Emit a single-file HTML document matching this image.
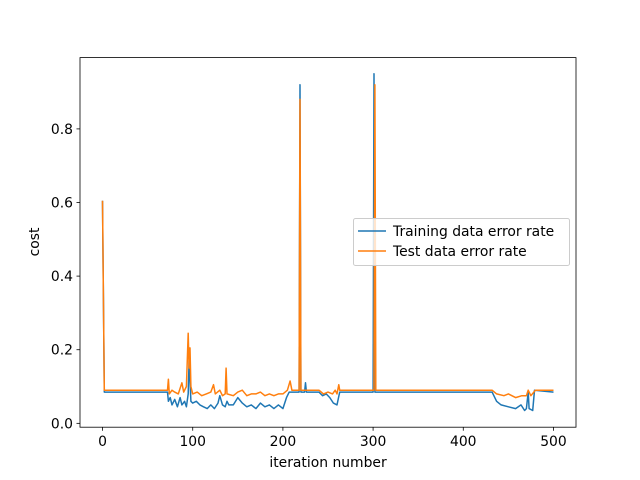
<!DOCTYPE html>
<html><head><meta charset="utf-8"><style>body{margin:0;background:#fff}svg{display:block;font-family:"DejaVu Sans","Liberation Sans",sans-serif}</style></head>
<body>
<svg id="c" width="640" height="480"></svg>
<script>
const trainX=[0,2,72,73,75,77,80,83,86,88,91,93,95,96,97,98,100,104,108,112,116,120,124,128,130,133,136,138,140,145,150,155,160,165,170,175,180,185,190,195,200,204,207,218,219,220,224,225,226,240,244,248,252,256,260,263,300,301,302,432,437,442,450,458,464,468,470,472,473,477,479,500];
const trainY=[0.605,0.085,0.085,0.06,0.07,0.05,0.065,0.045,0.07,0.05,0.06,0.045,0.08,0.17,0.12,0.06,0.055,0.06,0.05,0.045,0.04,0.05,0.04,0.055,0.075,0.05,0.045,0.06,0.05,0.05,0.07,0.055,0.045,0.05,0.04,0.055,0.045,0.05,0.04,0.05,0.04,0.07,0.085,0.085,0.92,0.085,0.085,0.11,0.085,0.085,0.075,0.08,0.07,0.055,0.05,0.085,0.085,0.95,0.085,0.085,0.06,0.05,0.045,0.04,0.05,0.035,0.04,0.085,0.04,0.035,0.09,0.085];
const testX=[0,2,72,73,74,77,80,84,88,90,93,95,96,97,98,100,105,110,115,120,123,125,130,133,136,137,138,145,150,155,160,165,170,175,180,185,190,195,200,205,208,210,218,219,220,240,245,250,255,258,260,262,263,301,302,303,432,437,445,450,458,465,470,472,475,480,500];
const testY=[0.605,0.09,0.09,0.12,0.08,0.09,0.085,0.08,0.11,0.085,0.1,0.245,0.15,0.205,0.1,0.08,0.085,0.075,0.08,0.085,0.105,0.08,0.09,0.075,0.08,0.15,0.08,0.075,0.085,0.09,0.075,0.08,0.08,0.085,0.075,0.08,0.075,0.08,0.08,0.09,0.115,0.09,0.09,0.88,0.09,0.09,0.08,0.085,0.08,0.09,0.08,0.105,0.09,0.09,0.92,0.09,0.09,0.08,0.075,0.08,0.07,0.075,0.075,0.09,0.075,0.09,0.09];
const xTicks=[0,100,200,300,400,500];
const yTicks=[0.0,0.2,0.4,0.6,0.8];
const L=80,R=576,T=57.6,B=427.2,x0=-25,x1=525,y0=-0.0105,y1=0.9937;
const sx=v=>L+(v-x0)/(x1-x0)*(R-L), sy=v=>B-(v-y0)/(y1-y0)*(B-T);
const svg=document.getElementById('c');const NS='http://www.w3.org/2000/svg';
function mk(t,a,p){const e=document.createElementNS(NS,t);for(const k in a)e.setAttribute(k,a[k]);(p||svg).appendChild(e);return e;}
function line(xs,ys,col,name){const d=xs.map((v,i)=>(i?'L':'M')+sx(v).toFixed(1)+' '+sy(ys[i]).toFixed(1)).join('');const p=mk('path',{d:d,fill:'none',stroke:col,'stroke-width':1.5,'stroke-linejoin':'round'});

}
line(trainX,trainY,'#1f77b4','training-error-line');
line(testX,testY,'#ff7f0e','test-error-line');
const fr=mk('rect',{x:L,y:T,width:R-L,height:B-T,fill:'none',stroke:'#000','stroke-width':0.8});


xTicks.forEach(v=>{const x=sx(v);mk('line',{x1:x,x2:x,y1:B,y2:B+3.5,stroke:'#000','stroke-width':0.8});const t=mk('text',{x:x,y:B+19,'text-anchor':'middle','font-size':13.9});t.textContent=v;

});
yTicks.forEach(v=>{const y=sy(v);mk('line',{x1:L-3.5,x2:L,y1:y,y2:y,stroke:'#000','stroke-width':0.8});const t=mk('text',{x:L-7,y:y+5,'text-anchor':'end','font-size':13.9});t.textContent=v.toFixed(1);

});
</script>
<svg style="position:absolute;left:0;top:0" width="640" height="480">
<text x="328" y="467" text-anchor="middle" font-size="13.9" font-family="DejaVu Sans,Liberation Sans,sans-serif">iteration number</text>
<text x="0" y="0" transform="translate(39,242) rotate(-90)" text-anchor="middle" font-size="13.9" font-family="DejaVu Sans,Liberation Sans,sans-serif">cost</text>
<g>
<rect x="353.5" y="218.5" width="216" height="47" rx="2" fill="#fff" fill-opacity="0.8" stroke="#ccc"/>
<line x1="358" x2="386" y1="231" y2="231" stroke="#1f77b4" stroke-width="1.5"/>
<text x="393" y="236" font-size="13.9" font-family="DejaVu Sans,Liberation Sans,sans-serif">Training data error rate</text>
<line x1="358" x2="386" y1="251" y2="251" stroke="#ff7f0e" stroke-width="1.5"/>
<text x="393" y="256" font-size="13.9" font-family="DejaVu Sans,Liberation Sans,sans-serif">Test data error rate</text>
</g>
</svg>
</body></html>
